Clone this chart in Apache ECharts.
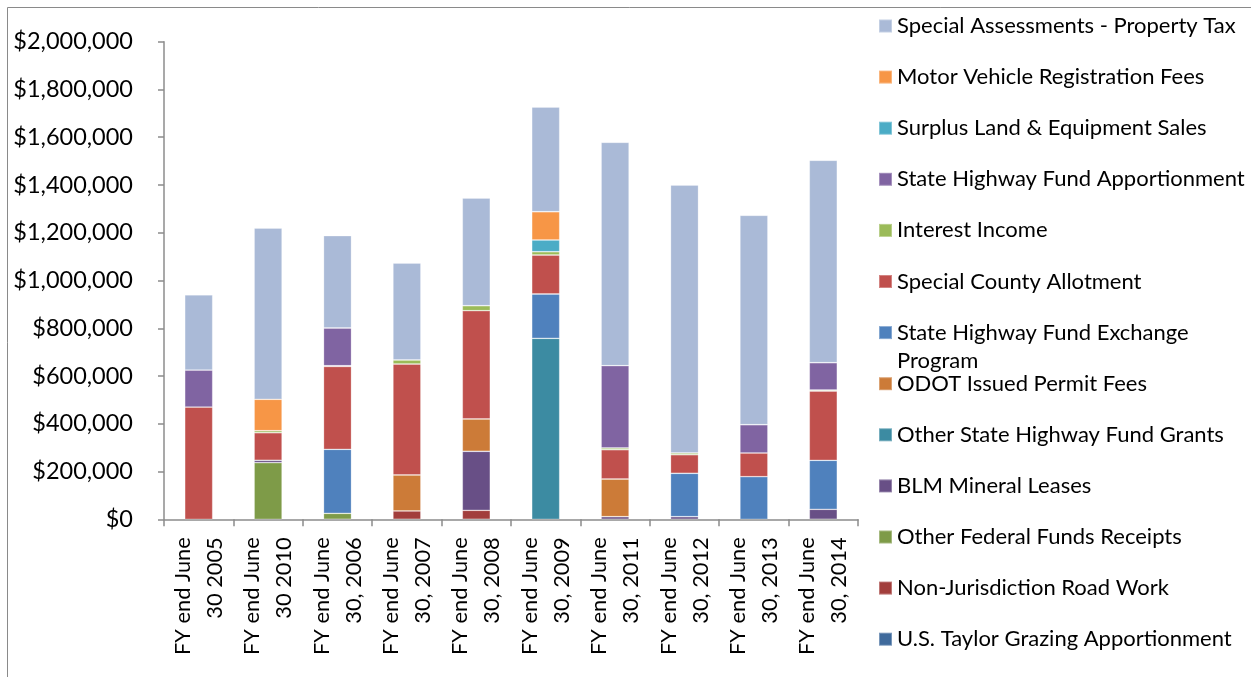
<!DOCTYPE html>
<html>
<head>
<meta charset="utf-8">
<title>Road Fund Revenue by Source</title>
<script src="https://cdn.jsdelivr.net/npm/echarts@6/dist/echarts.min.js"></script>
<style>
  html, body { margin: 0; padding: 0; background: #ffffff; }
  #chart { width: 1251px; height: 677px; }
</style>
</head>
<body>
<div id="chart"></div>
<script>
// Fiscal years, in the order the columns are laid out
const categories = [
  'FY end June\n30 2005', 'FY end June\n30 2010', 'FY end June\n30, 2006',
  'FY end June\n30, 2007', 'FY end June\n30, 2008', 'FY end June\n30, 2009',
  'FY end June\n30, 2011', 'FY end June\n30, 2012', 'FY end June\n30, 2013',
  'FY end June\n30, 2014'
];

// Revenue by source (dollars), one value per fiscal year above
const taylorGrazing      = [0, 0, 0, 0, 0, 0, 0, 0, 0, 0];
const nonJurisdiction    = [0, 0, 0, 35000, 37700, 0, 0, 0, 0, 0];
const otherFederal       = [0, 237000, 25000, 0, 0, 0, 0, 0, 0, 0];
const blmMineral         = [0, 10000, 0, 0, 247000, 0, 11000, 11000, 0, 41900];
const otherStateGrants   = [0, 0, 0, 0, 0, 758000, 0, 0, 0, 0];
const odotPermits        = [0, 0, 0, 150500, 135300, 0, 157800, 0, 0, 0];
const shfExchange        = [0, 0, 268000, 0, 0, 185500, 0, 181600, 178400, 205100];
const countyAllotment    = [470000, 115600, 347000, 464800, 453500, 163300, 122700, 77900, 99200, 290300];
const interestIncome     = [0, 8400, 3000, 16700, 21000, 13800, 7100, 7100, 0, 4200];
const shfApportionment   = [155000, 0, 158000, 0, 0, 0, 344600, 0, 118500, 114300];
const surplusSales       = [0, 0, 0, 0, 0, 49000, 0, 0, 0, 0];
const motorVehicleFees   = [0, 131500, 0, 0, 0, 118400, 0, 0, 0, 0];
const specialAssessments = [315000, 717000, 386600, 406300, 451000, 438600, 935500, 1122400, 876900, 847600];

// Value axis ticks
const yMin = 0;
const yMax = 2000000;
const yStep = 200000;

// Stack order, bottom to top
const stackSeries = [
  { name: 'U.S. Taylor Grazing Apportionment', data: taylorGrazing,      color: '#3F6A9C' },
  { name: 'Non-Jurisdiction Road Work',        data: nonJurisdiction,    color: '#A23E3C' },
  { name: 'Other Federal Funds Receipts',      data: otherFederal,       color: '#7E9B48' },
  { name: 'BLM Mineral Leases',                data: blmMineral,         color: '#684F86' },
  { name: 'Other State Highway Fund Grants',   data: otherStateGrants,   color: '#3C8BA2' },
  { name: 'ODOT Issued Permit Fees',           data: odotPermits,        color: '#CC7B38' },
  { name: 'State Highway Fund Exchange Program', data: shfExchange,      color: '#4F81BD' },
  { name: 'Special County Allotment',          data: countyAllotment,    color: '#C0504D' },
  { name: 'Interest Income',                   data: interestIncome,     color: '#9BBB59' },
  { name: 'State Highway Fund Apportionment',  data: shfApportionment,   color: '#8064A2' },
  { name: 'Surplus Land & Equipment Sales',    data: surplusSales,       color: '#4BACC6' },
  { name: 'Motor Vehicle Registration Fees',   data: motorVehicleFees,   color: '#F79646' },
  { name: 'Special Assessments - Property Tax', data: specialAssessments, color: '#AABAD7' }
];

const FONT = 'Lato, "Open Sans", sans-serif';
const AXIS_GRAY = '#8c8c8c';

const chart = echarts.init(document.getElementById('chart'), null, { renderer: 'canvas' });

const legendNames = stackSeries.map(s => s.name).reverse();

chart.setOption({
  animation: false,
  backgroundColor: '#ffffff',
  grid: { left: 164, right: 393, top: 41.7, bottom: 157.7, containLabel: false },
  legend: {
    orient: 'vertical',
    left: 878,
    top: 15,
    padding: 0,
    itemGap: 29.1,
    itemWidth: 13,
    itemHeight: 13,
    icon: 'rect',
    selectedMode: false,
    data: legendNames,
    formatter: name => name === 'State Highway Fund Exchange Program' ? 'State Highway Fund Exchange' : name,
    textStyle: { fontFamily: FONT, fontSize: 22, color: '#000000', lineHeight: 21 }
  },
  xAxis: {
    type: 'category',
    data: categories,
    axisLine: { show: true, lineStyle: { color: AXIS_GRAY, width: 1.5 } },
    axisTick: { show: true, inside: false, length: 7, lineStyle: { color: AXIS_GRAY, width: 1.5 } },
    axisLabel: {
      rotate: 90,
      margin: 18,
      fontFamily: FONT,
      fontSize: 21.8,
      lineHeight: 32,
      color: '#000000',
      interval: 0
    },
    splitLine: { show: false }
  },
  yAxis: {
    type: 'value',
    min: yMin,
    max: yMax,
    interval: yStep,
    axisLine: { show: true, lineStyle: { color: AXIS_GRAY, width: 1.5 } },
    axisTick: { show: true, inside: false, length: 6, lineStyle: { color: AXIS_GRAY, width: 1.5 } },
    axisLabel: {
      margin: 31,
      fontFamily: FONT,
      fontSize: 23.5,
      color: '#000000',
      formatter: v => '$' + v.toLocaleString('en-US')
    },
    splitLine: { show: false }
  },
  series: stackSeries.map(s => ({
    name: s.name,
    type: 'bar',
    stack: 'revenue',
    barWidth: 28,
    // empty segments are left out so no hairline is drawn for them
    data: s.data.map(v => (v === 0 ? null : v)),
    itemStyle: { color: s.color, borderColor: 'rgba(255,255,255,0.3)', borderWidth: 0.8 },
    emphasis: { disabled: true }
  })),
  graphic: [
    {
      type: 'rect',
      silent: true,
      shape: { x: 7.5, y: 7.5, width: 1400, height: 800 },
      style: { fill: 'none', stroke: '#8a8a8a', lineWidth: 1 }
    },
    {
      type: 'text',
      silent: true,
      left: 897,
      top: 350,
      style: { text: 'Program', fontFamily: FONT, fontSize: 22, fill: '#000000' }
    }
  ]
});
</script>
</body>
</html>
